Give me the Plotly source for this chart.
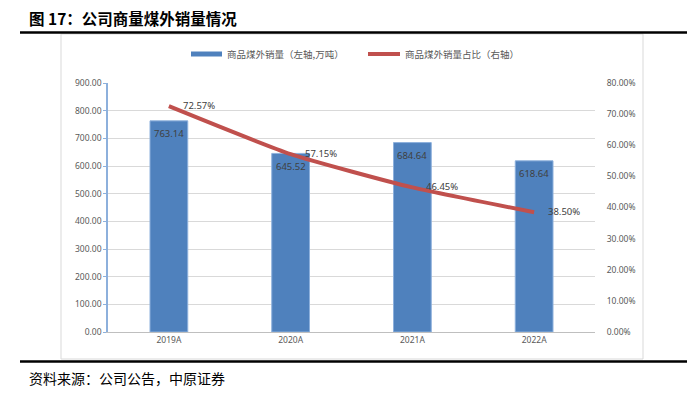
import plotly.graph_objects as go

categories = ["2019A", "2020A", "2021A", "2022A"]
sales = [763.14, 645.52, 684.64, 618.64]
share = [72.57, 57.15, 46.45, 38.50]
left_ticks = [0, 100, 200, 300, 400, 500, 600, 700, 800, 900]
right_ticks = [0, 10, 20, 30, 40, 50, 60, 70, 80]

OFF = 8  # page body margin
W, H = 699 - OFF, 399 - OFF
L, R, T, B = 108 - OFF, 595 - OFF, 83 - OFF, 332 - OFF

def px(x):
    return (x - OFF - L) / (R - L)

def py(y):
    return (B - (y - OFF)) / (B - T)

num_font = dict(family="Noto Sans, Liberation Sans, sans-serif", size=8.5, color="#595959")
cjk = "Noto Sans CJK SC"

fig = go.Figure()
fig.add_trace(go.Bar(
    x=categories, y=sales, name="商品煤外销量（左轴,万吨）",
    marker=dict(color="#4F81BD", line=dict(color="#8DB0DC", width=1)),
    width=0.31, yaxis="y", showlegend=False, hoverinfo="skip",
))
fig.add_trace(go.Scatter(
    x=categories, y=share, name="商品煤外销量占比（右轴）", yaxis="y2",
    mode="lines", line=dict(color="#C0504D", width=4, shape="spline", smoothing=0.5),
    showlegend=False, hoverinfo="skip",
))

annotations = []
for c, v in zip(categories, sales):
    annotations.append(dict(x=c, y=v, xref="x", yref="y", text=f"{v:.2f}", showarrow=False,
                            yshift=-13, font=dict(family="Noto Sans, sans-serif", size=9.5, color="#404040")))
for c, v in zip(categories, share):
    annotations.append(dict(x=c, y=v, xref="x", yref="y2", text=f"{v:.2f}%", showarrow=False,
                            xanchor="left", xshift=12, yshift=1,
                            font=dict(family="Noto Sans, sans-serif", size=9.5, color="#404040")))

# title and source
annotations.append(dict(x=px(27), y=py(18), xref="paper", yref="paper", xanchor="left", yanchor="middle",
                        text="<b>图 17：公司商量煤外销量情况</b>", showarrow=False,
                        font=dict(family=cjk, size=15.5, color="#000000")))
annotations.append(dict(x=px(27), y=py(378), xref="paper", yref="paper", xanchor="left", yanchor="middle",
                        text="资料来源：公司公告，中原证券", showarrow=False,
                        font=dict(family=cjk, size=14, color="#000000")))
# legend texts
annotations.append(dict(x=px(225), y=py(54), xref="paper", yref="paper", xanchor="left", yanchor="middle",
                        text="商品煤外销量（左轴,万吨）", showarrow=False,
                        font=dict(family=cjk, size=9.5, color="#595959")))
annotations.append(dict(x=px(403), y=py(54), xref="paper", yref="paper", xanchor="left", yanchor="middle",
                        text="商品煤外销量占比（右轴）", showarrow=False,
                        font=dict(family=cjk, size=9.5, color="#595959")))

shapes = [
    dict(type="line", xref="paper", yref="paper", x0=px(20), x1=px(687), y0=py(32.5), y1=py(32.5),
         line=dict(color="#000000", width=2.5)),
    dict(type="line", xref="paper", yref="paper", x0=px(20), x1=px(687), y0=py(361.5), y1=py(361.5),
         line=dict(color="#000000", width=2.5)),
    dict(type="rect", xref="paper", yref="paper", x0=px(61), x1=px(643), y0=py(34), y1=py(359),
         line=dict(color="#D9D9D9", width=1), layer="below"),
    dict(type="line", xref="paper", yref="paper", x0=px(191), x1=px(222), y0=py(54), y1=py(54),
         line=dict(color="#4F81BD", width=5)),
    dict(type="line", xref="paper", yref="paper", x0=px(368), x1=px(400), y0=py(54), y1=py(54),
         line=dict(color="#C0504D", width=4)),
]

fig.update_layout(
    width=W, height=H,
    margin=dict(l=L, r=W - R, t=T, b=H - B, pad=0),
    paper_bgcolor="white", plot_bgcolor="white",
    xaxis=dict(type="category", showgrid=False, showline=True, linecolor="#BFBFBF", linewidth=1,
               ticks="", tickfont=num_font, range=[-0.5, 3.5], fixedrange=True),
    yaxis=dict(range=[0, 900], tickvals=left_ticks, ticktext=[f"{v:.2f}" for v in left_ticks],
               showgrid=True, gridcolor="#D9D9D9", gridwidth=1, showline=True,
               linecolor="#8DB0DC", linewidth=1.5, ticks="outside", ticklen=3, tickcolor="#8DB0DC",
               tickfont=num_font, zeroline=False),
    yaxis2=dict(range=[0, 80], tickvals=right_ticks, ticktext=[f"{v:.2f}%" for v in right_ticks],
                overlaying="y", side="right", showgrid=False, showline=False, ticks="outside",
                ticklen=9, tickcolor="rgba(0,0,0,0)", tickfont=num_font, zeroline=False),
    annotations=annotations,
    shapes=shapes,
)

fig.write_html("out.html")
